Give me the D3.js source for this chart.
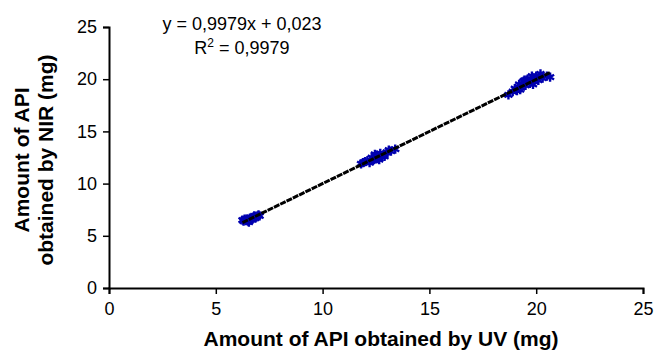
<!DOCTYPE html>
<html><head><meta charset="utf-8">
<script src="https://cdn.jsdelivr.net/npm/d3@7"></script>
<style>body{margin:0;background:#fff}svg{display:block}text{font-family:"Liberation Sans",Arial,sans-serif}</style>
</head><body><svg id="c" width="654" height="352"></svg>
<script>
const uvValues = [6.3,6.4,6.5,6.6,6.7,6.8,6.9,7.0,6.45,6.55,6.75,6.35,6.6,6.85,6.95,6.5,6.25,7.05,
  11.8,12.0,12.2,12.3,12.4,12.5,12.6,12.7,12.8,12.9,13.0,13.2,13.4,12.1,12.45,12.65,12.35,12.9,13.1,11.9,12.55,
  18.7,19.0,19.1,19.2,19.3,19.4,19.5,19.6,19.7,19.8,19.9,20.0,20.1,20.2,20.3,20.5,20.65,19.25,19.55,19.85,20.05,18.9,19.45];
const nirValues = [6.4,6.5,6.4,6.7,6.6,6.9,6.8,7.0,6.6,6.3,6.8,6.6,6.5,6.7,6.9,6.6,6.5,6.9,
  11.9,12.1,12.0,12.5,12.3,12.7,12.4,12.9,12.6,12.8,13.0,13.1,13.3,12.2,12.8,12.3,12.2,12.6,13.2,12.0,12.6,
  18.5,19.1,18.9,19.5,19.2,19.8,19.4,20.0,19.6,20.3,19.8,20.3,19.9,20.5,20.1,20.3,20.2,19.0,19.9,19.5,20.1,18.8,19.9];
const xTicks = [0,5,10,15,20,25];
const yTicks = [0,5,10,15,20,25];
const slope = 0.9979, intercept = 0.023;
const eqLines = ["y = 0,9979x + 0,023", "R² = 0,9979"];

const svg = d3.select("#c");
const m = {l:109, r:11, t:27, b:64};
const W = 654, H = 352;
const x = d3.scaleLinear().domain([0,25]).range([m.l, W-m.r]);
const y = d3.scaleLinear().domain([0,25]).range([H-m.b, m.t]);

const xa = svg.append("g").attr("transform",`translate(0,${H-m.b})`)
  .call(d3.axisBottom(x).tickValues(xTicks).tickSize(6).tickPadding(8).tickFormat(d3.format("d")));
const ya = svg.append("g").attr("transform",`translate(${m.l},0)`)
  .call(d3.axisLeft(y).tickValues(yTicks).tickSize(6).tickPadding(6).tickFormat(d3.format("d")));
[xa,ya].forEach(a=>{
  a.select(".domain").attr("stroke","#000").attr("stroke-width",2);
  a.selectAll(".tick line").attr("stroke","#000").attr("stroke-width",1.5);
  a.selectAll(".tick text").attr("font-size",18).attr("fill","#000").style("font-family","Liberation Sans, Arial, sans-serif");
});

const pts = uvValues.map((u,i)=>({u, n:nirValues[i]}));
const sym = d3.symbol().type(d3.symbolAsterisk).size(60);
svg.append("g").selectAll("path").data(pts).join("path")
  .attr("transform",d=>`translate(${x(d.u)},${y(d.n)})`)
  .attr("d",sym).attr("fill","none").attr("stroke","#0000b0").attr("stroke-width",2.4);

const [x0,x1] = d3.extent(uvValues);
svg.append("line")
  .attr("x1",x(x0)).attr("y1",y(slope*x0+intercept))
  .attr("x2",x(x1)).attr("y2",y(slope*x1+intercept))
  .attr("stroke","#000").attr("stroke-width",3).attr("stroke-dasharray","6,1");

svg.append("text").attr("x",242).attr("y",30).attr("text-anchor","middle").attr("font-size",18).text(eqLines[0]);
const r = svg.append("text").attr("x",242).attr("y",54).attr("text-anchor","middle").attr("font-size",18);
r.append("tspan").text("R");
r.append("tspan").attr("dy",-7).attr("font-size",12).text("2");
r.append("tspan").attr("dy",7).text(" = 0,9979");

svg.append("text").attr("x",381).attr("y",346).attr("text-anchor","middle").attr("font-size",21).attr("font-weight","bold")
  .text("Amount of API obtained by UV (mg)");
const yl = svg.append("text").attr("transform","translate(29,160) rotate(-90)").attr("text-anchor","middle").attr("font-size",21).attr("font-weight","bold");
yl.append("tspan").attr("x",0).attr("dy",0).text("Amount of API");
yl.append("tspan").attr("x",0).attr("dy",24).text("obtained by NIR (mg)");
</script></body></html>
